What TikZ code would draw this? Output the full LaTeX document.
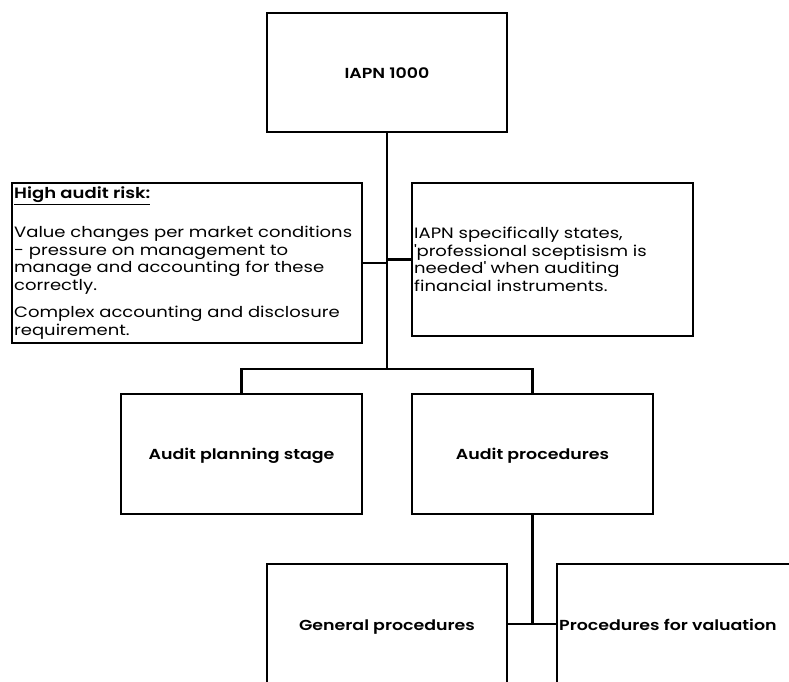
\documentclass[tikz,border=0pt]{standalone}
\usepackage{fontspec}
\setmainfont[FakeStretch=1.2, BoldFont={Poppins SemiBold}]{Poppins}

\begin{document}
\begin{tikzpicture}[x=1pt, y=-1pt,
  box/.style={draw=black, line width=2.4pt, rectangle, inner sep=0pt, outer sep=0pt},
  link/.style={draw=black, line width=2.4pt, line cap=rect},
  title/.style={font=\bfseries\fontsize{14.5}{17}\selectfont, inner sep=0pt},
  body/.style={font=\fontsize{15}{17.6}\selectfont, align=left, inner sep=0pt, anchor=north west}
]
\useasboundingbox (0,0) rectangle (789,682);

% boxes
\node[box, minimum width=240pt, minimum height=119pt] (iapn) at (387,72.5) {};
\node[box, minimum width=350pt, minimum height=160pt] (risk) at (187,263) {};
\node[box, minimum width=281pt, minimum height=153pt] (note) at (552.5,259.5) {};
\node[box, minimum width=241pt, minimum height=120pt] (plan) at (241.5,454) {};
\node[box, minimum width=241pt, minimum height=120pt] (proc) at (532.5,454) {};
\node[box, minimum width=240pt, minimum height=120pt] (gen) at (387,624) {};
\node[box, minimum width=240pt, minimum height=120pt] (val) at (677,624) {};

% labels
\node[title] (iapnT) at ([yshift=-1pt]iapn.center) {IAPN 1000};
\node[title] (planT) at ([yshift=-2pt]plan.center) {Audit planning stage};
\node[title] (procT) at ([yshift=-2pt]proc.center) {Audit procedures};
\node[title] (genT) at ([yshift=-3pt]gen.center) {General procedures};
\node[title, anchor=west] (valT) at (559,625) {Procedures for valuation};

\node[body] (riskH) at (14,187) {\textbf{\underline{High audit risk:}}};
\node[body] (riskA) at (14,226) {Value changes per market conditions\\
- pressure on management to\\
manage and accounting for these\\
correctly.};
\node[body] (riskB) at (14,306) {Complex accounting and disclosure\\
requirement.};
\node[body] (noteT) at (414,227) {IAPN specifically states,\\
\textquotesingle professional sceptisism is\\
needed\textquotesingle{} when auditing\\
financial instruments.};

% connectors
\coordinate (bar) at (387,369);
\draw[link] (iapn.south) -- (bar);
\draw[link] (risk.east) -- (risk.east -| iapn.south);
\draw[link] (note.west) -- (note.west -| iapn.south);
\draw[link] (plan.north) |- (bar) -| (proc.north);
\draw[link] (proc.south) -- (proc.south |- gen.east);
\draw[link] (gen.east) -- (val.west);
\end{tikzpicture}
\end{document}
